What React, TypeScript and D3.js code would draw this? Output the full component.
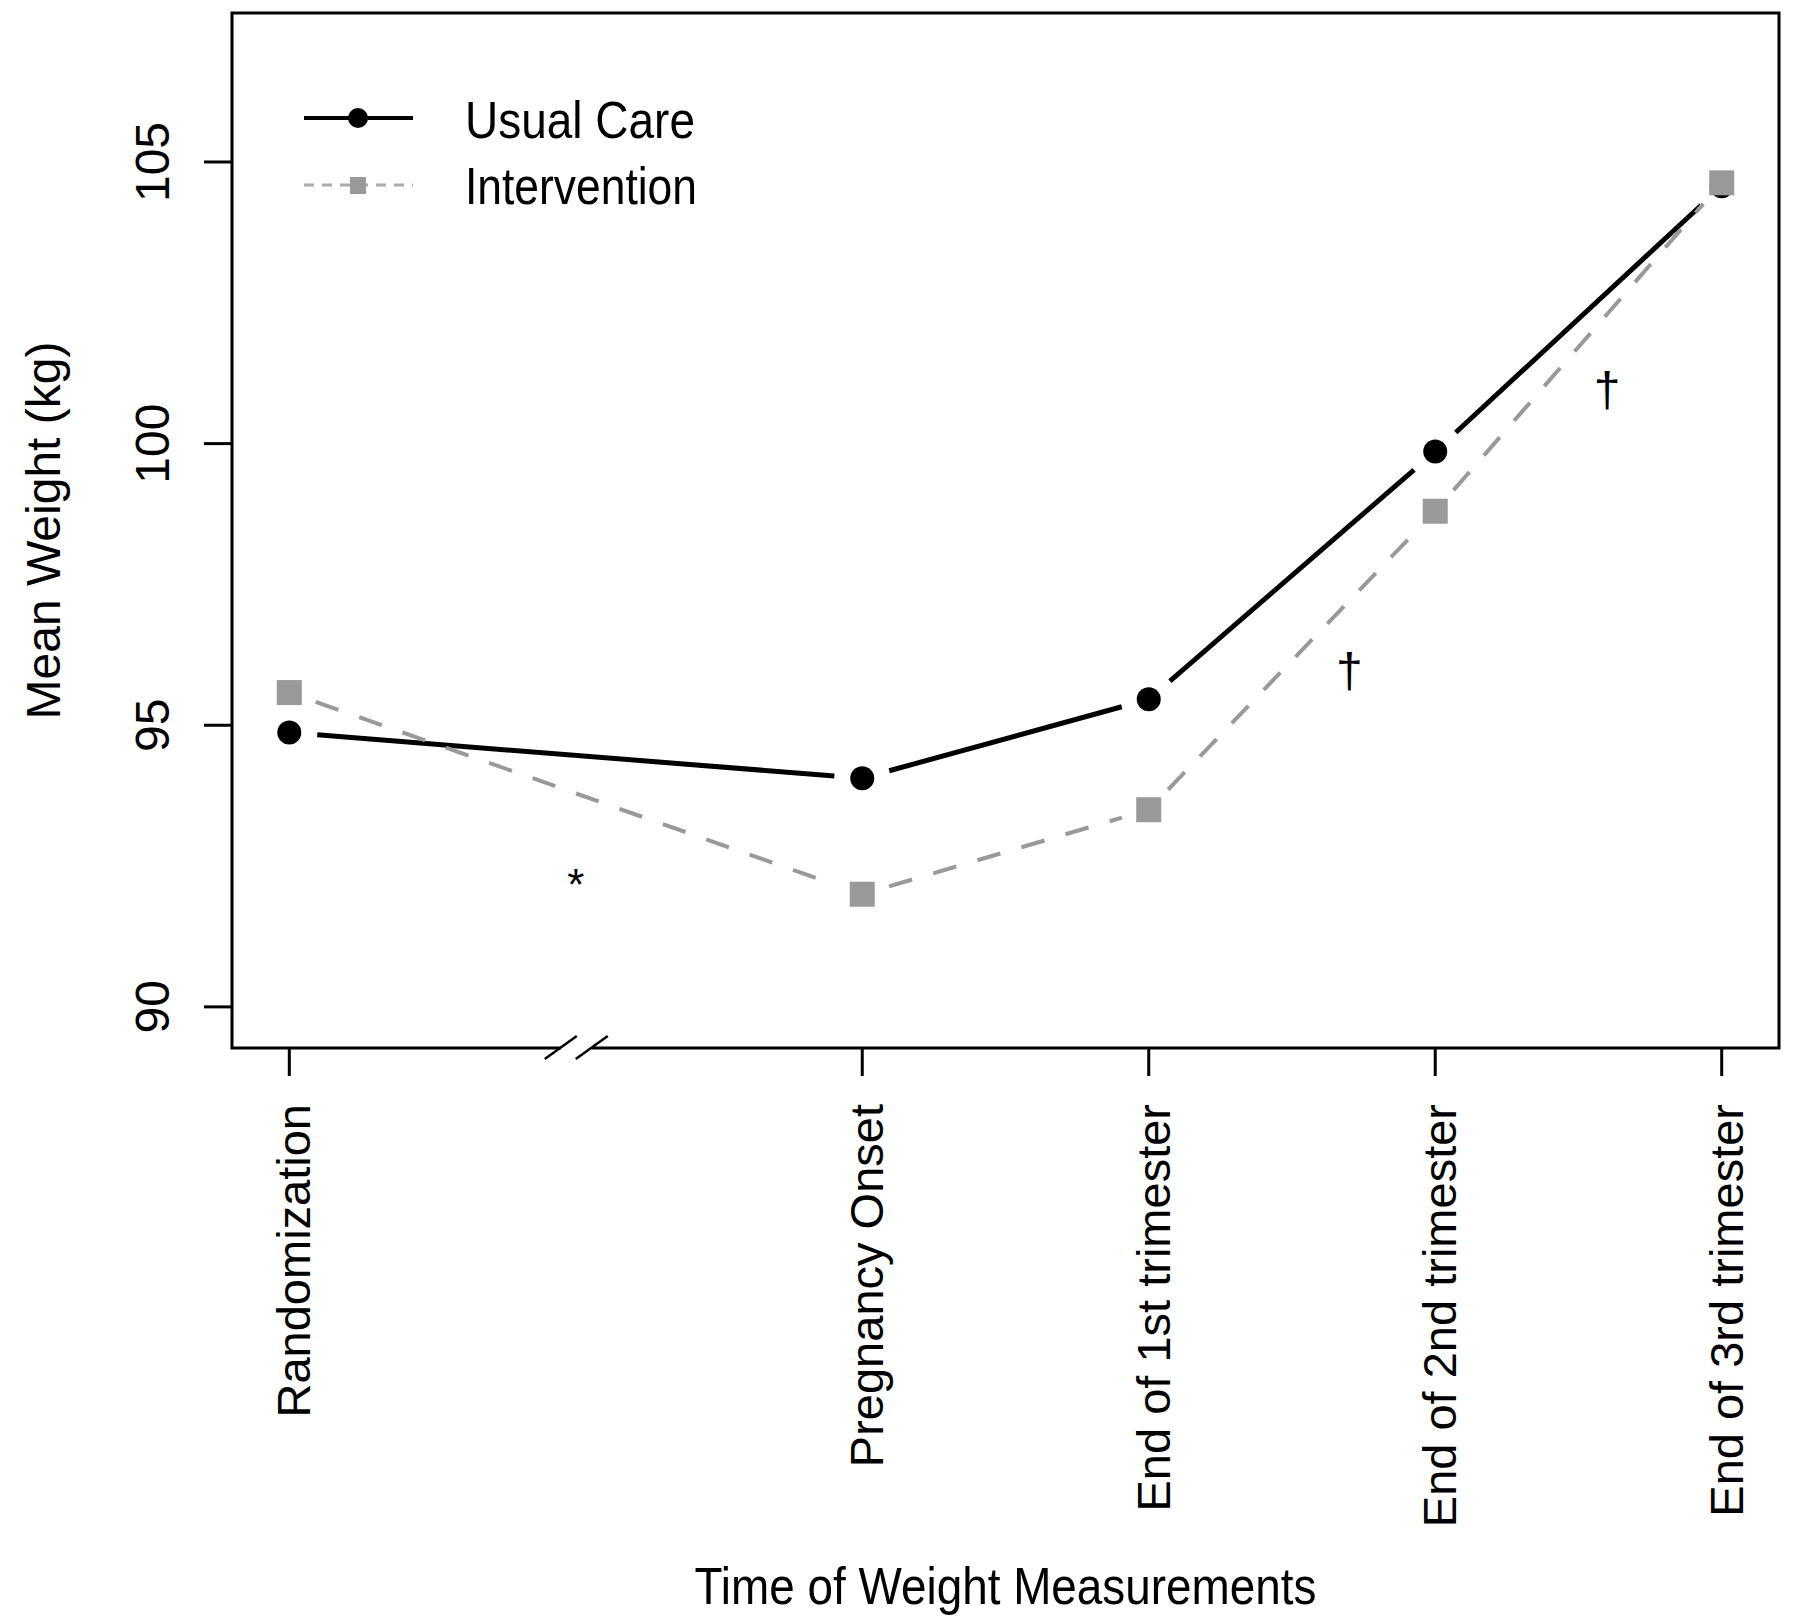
import * as d3 from "d3";

// time points (numeric positions leave room for the axis break at 1)
const categories = [
  "Randomization",
  "Pregnancy Onset",
  "End of 1st trimester",
  "End of 2nd trimester",
  "End of 3rd trimester",
];
const positions = [0, 2, 3, 4, 5];
const usualCare = [94.87, 94.06, 95.46, 99.86, 104.57];
const intervention = [95.58, 92.0, 93.5, 98.8, 104.63];
const yTicks = [90, 95, 100, 105];
const notes = [
  { x: 1, y: 92.34, label: "*" },
  { x: 3.7, y: 95.93, label: "\u2020" },
  { x: 4.6, y: 100.93, label: "\u2020" },
];
const breakAt = 1;

const W = 1800;
const H = 1619;
const box = { left: 232, right: 1779, top: 13, bottom: 1048 };
const font = "'Liberation Sans', Arial, sans-serif";

const x = d3.scaleLinear().domain([-0.2, 5.2]).range([box.left, box.right]);
const y = d3.scaleLinear().domain([89.27, 107.645]).range([box.bottom, box.top]);

// R type="b": segments stop short of the points
function gapped(vals: number[], gap: number) {
  const pts = vals.map((v, i) => [x(positions[i]), y(v)]);
  const segs: number[][] = [];
  for (let i = 0; i < pts.length - 1; i++) {
    const [x0, y0] = pts[i];
    const [x1, y1] = pts[i + 1];
    const len = Math.hypot(x1 - x0, y1 - y0);
    const ux = (x1 - x0) / len;
    const uy = (y1 - y0) / len;
    segs.push([x0 + ux * gap, y0 + uy * gap, x1 - ux * gap, y1 - uy * gap]);
  }
  return segs;
}

export default function App() {
  const bx = x(breakAt);
  const sq = 25;
  return (
    <svg
      width={W}
      height={H}
      style={{ position: "absolute", left: 0, top: 0, background: "#fff" }}
      fontFamily={font}
    >
      {/* usual care */}
      {gapped(usualCare, 28).map((s, i) => (
        <line key={"u" + i} x1={s[0]} y1={s[1]} x2={s[2]} y2={s[3]} stroke="#000" strokeWidth={5} />
      ))}
      {usualCare.map((v, i) => (
        <circle key={"uc" + i} cx={x(positions[i])} cy={y(v)} r={12} fill="#000" />
      ))}

      {/* intervention */}
      {gapped(intervention, 28).map((s, i) => (
        <line
          key={"n" + i}
          x1={s[0]}
          y1={s[1]}
          x2={s[2]}
          y2={s[3]}
          stroke="#999"
          strokeWidth={4}
          strokeDasharray="24 22"
        />
      ))}
      {intervention.map((v, i) => (
        <rect
          key={"ns" + i}
          x={x(positions[i]) - sq / 2}
          y={y(v) - sq / 2}
          width={sq}
          height={sq}
          fill="#999"
        />
      ))}

      {/* significance marks */}
      {notes.map((n, i) => (
        <text
          key={"t" + i}
          x={x(n.x)}
          y={y(n.y)}
          dy={n.label === "*" ? "0.57em" : "0.3em"}
          textAnchor="middle"
          fontSize={n.label === "*" ? 44 : 48}
          fill="#000"
        >
          {n.label}
        </text>
      ))}

      {/* frame */}
      <rect
        x={box.left}
        y={box.top}
        width={box.right - box.left}
        height={box.bottom - box.top}
        fill="none"
        stroke="#000"
        strokeWidth={3}
      />

      {/* axis break */}
      <rect x={bx - 15} y={box.bottom - 3} width={31} height={6} fill="#fff" />
      {[-15, 16].map((o, i) => (
        <line
          key={"b" + i}
          x1={bx + o - 16}
          y1={box.bottom + 11}
          x2={bx + o + 16}
          y2={box.bottom - 12}
          stroke="#000"
          strokeWidth={2.5}
        />
      ))}

      {/* y axis */}
      {yTicks.map((t) => (
        <g key={"y" + t}>
          <line x1={box.left - 28} x2={box.left} y1={y(t)} y2={y(t)} stroke="#000" strokeWidth={3} />
          <text
            transform={`translate(169,${y(t)}) rotate(-90)`}
            textAnchor="middle"
            fontSize={48}
            fill="#000"
          >
            {t}
          </text>
        </g>
      ))}
      <text
        transform={`translate(60,${(box.top + box.bottom) / 2}) rotate(-90)`}
        textAnchor="middle"
        fontSize={48}
        fill="#000"
      >
        Mean Weight (kg)
      </text>

      {/* x axis */}
      {categories.map((c, i) => (
        <g key={"x" + i}>
          <line
            x1={x(positions[i])}
            x2={x(positions[i])}
            y1={box.bottom}
            y2={box.bottom + 28}
            stroke="#000"
            strokeWidth={3}
          />
          <text
            transform={`translate(${x(positions[i]) + 21},1104) rotate(-90)`}
            textAnchor="end"
            fontSize={47}
            fill="#000"
          >
            {c}
          </text>
        </g>
      ))}
      <text
        x={(box.left + box.right) / 2}
        y={1604}
        textAnchor="middle"
        fontSize={52}
        textLength={622}
        lengthAdjust="spacingAndGlyphs"
        fill="#000"
      >
        Time of Weight Measurements
      </text>

      {/* legend */}
      <g>
        <line x1={304} x2={413} y1={118} y2={118} stroke="#000" strokeWidth={4} />
        <circle cx={358} cy={118} r={10} fill="#000" />
        <text x={465} y={138} fontSize={52} textLength={230} lengthAdjust="spacingAndGlyphs" fill="#000">
          Usual Care
        </text>
        <line x1={304} x2={413} y1={185} y2={185} stroke="#aaa" strokeWidth={3} strokeDasharray="10 8" />
        <rect x={350} y={177} width={16} height={17} fill="#999" />
        <text x={465} y={204} fontSize={52} textLength={232} lengthAdjust="spacingAndGlyphs" fill="#000">
          Intervention
        </text>
      </g>
    </svg>
  );
}
